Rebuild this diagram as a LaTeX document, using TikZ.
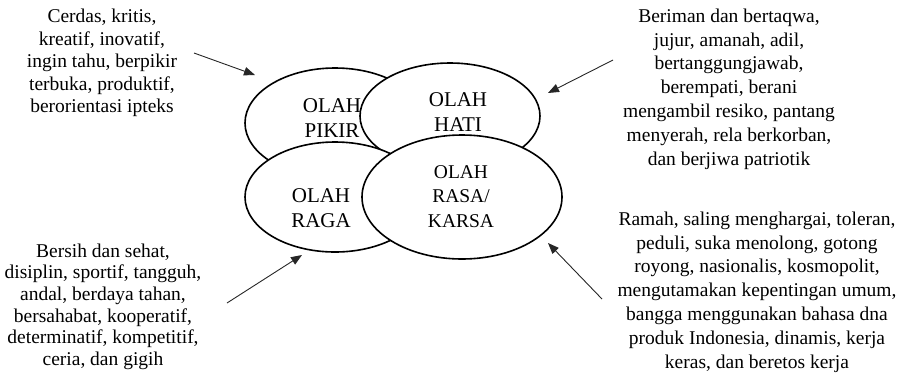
\documentclass[tikz,border=0pt]{standalone}
\usepackage{fontspec}
\setmainfont{Liberation Serif}
\usetikzlibrary{shapes.geometric,arrows.meta}
\begin{document}
\begin{tikzpicture}[x=1pt,y=-1pt,
  oval/.style={ellipse,draw=black,line width=1.6pt,fill=white,inner sep=0pt},
  olabel/.style={inner sep=0pt,align=center,anchor=north,font=\fontsize{21}{25}\selectfont},
  sidetext/.style={inner sep=0pt,align=center,anchor=north},
  pointer/.style={draw=black!85,line width=0.9pt,-{Triangle[length=11pt,width=8.5pt]}}]
\useasboundingbox (0,0) rectangle (905,376);
% ellipses
\node[oval,minimum width=180pt,minimum height=110pt] (pikir) at (335,123) {};
\node[oval,minimum width=180pt,minimum height=106pt] (hati) at (450,116) {};
\node[oval,minimum width=180pt,minimum height=110pt] (raga) at (335,197) {};
\node[oval,minimum width=200pt,minimum height=124pt] (rasa) at (462,197) {};
% labels
\node[olabel] (tpikir) at (332,98.8) {OLAH\\PIKIR};
\node[olabel] (thati) at (458,92.8) {OLAH\\HATI};
\node[olabel] (traga) at (321,188.8) {OLAH\\RAGA};
\node[olabel,font=\fontsize{19.5}{24.5}\selectfont] (trasa) at (461,165) {OLAH\\RASA/\\KARSA};
% side texts
\node[sidetext,font=\fontsize{19.5}{22.5}\selectfont] (pikirtext) at (102,8.8)
  {Cerdas, kritis,\\kreatif, inovatif,\\ingin tahu, berpikir\\terbuka, produktif,\\berorientasi ipteks};
\node[sidetext,font=\fontsize{19.5}{23.8}\selectfont] (hatitext) at (729,8.6)
  {Beriman dan bertaqwa,\\jujur, amanah, adil,\\bertanggungjawab,\\berempati, berani\\mengambil resiko, pantang\\menyerah, rela berkorban,\\dan berjiwa patriotik};
\node[sidetext,font=\fontsize{19.5}{21.7}\selectfont] (ragatext) at (103,243.3)
  {Bersih dan sehat,\\disiplin, sportif, tangguh,\\andal, berdaya tahan,\\bersahabat, kooperatif,\\determinatif, kompetitif,\\ceria, dan gigih};
\node[sidetext,font=\fontsize{19.5}{23.8}\selectfont] (rasatext) at (757,211.6)
  {Ramah, saling menghargai, toleran,\\peduli, suka menolong, gotong\\royong, nasionalis, kosmopolit,\\mengutamakan kepentingan umum,\\bangga menggunakan bahasa dna\\produk Indonesia, dinamis, kerja\\keras, dan beretos kerja};
% arrows
\coordinate (a1s) at (194,53);  \coordinate (a1t) at (255,75);
\coordinate (a2s) at (613,60);  \coordinate (a2t) at (548,93);
\coordinate (a3s) at (227,303); \coordinate (a3t) at (302,255);
\coordinate (a4s) at (602,299); \coordinate (a4t) at (548,243);
\draw[pointer] (a1s) -- (a1t);
\draw[pointer] (a2s) -- (a2t);
\draw[pointer] (a3s) -- (a3t);
\draw[pointer] (a4s) -- (a4t);
\end{tikzpicture}
\end{document}
